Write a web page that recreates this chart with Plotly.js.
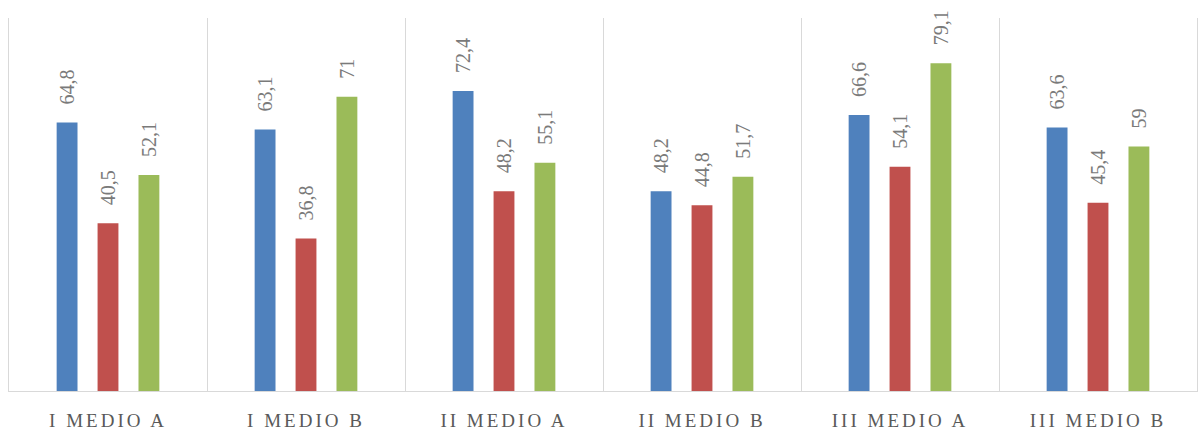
<!DOCTYPE html>
<html>
<head>
<meta charset="utf-8">
<script src="https://cdn.plot.ly/plotly-3.0.1.min.js"></script>
<style>
html,body{margin:0;padding:0;background:#fff;}
#chart{width:1200px;height:430px;}
.xtick text{letter-spacing:3px;}
</style>
</head>
<body>
<div id="chart"></div>
<script>
const categories = ["I MEDIO A", "I MEDIO B", "II MEDIO A", "II MEDIO B", "III MEDIO A", "III MEDIO B"];
const series1 = [64.8, 63.1, 72.4, 48.2, 66.6, 63.6];
const series2 = [40.5, 36.8, 48.2, 44.8, 54.1, 45.4];
const series3 = [52.1, 71, 55.1, 51.7, 79.1, 59];
const colors = ["#4f81bd", "#c0504d", "#9bbb59"];

function fmt(v) { return '\u00a0\u00a0\u00a0' + String(v).replace('.', ','); }

const traces = [series1, series2, series3].map((s, i) => ({
  type: 'bar',
  x: categories,
  y: s,
  marker: {color: colors[i]},
  text: s.map(fmt),
  textposition: 'outside',
  textangle: -90,
  constraintext: 'none',
  textfont: {family: 'Liberation Serif, DejaVu Serif, serif', size: 20, color: '#7a7a7a'},
  cliponaxis: false,
  hoverinfo: 'none'
}));

const layout = {
  width: 1200, height: 430,
  margin: {l: 9, r: 3, t: 18, b: 39},
  paper_bgcolor: '#fff', plot_bgcolor: '#fff',
  barmode: 'group',
  bargap: 0.38,
  bargroupgap: 0.49,
  showlegend: false,
  uniformtext: {mode: false},
  xaxis: {
    type: 'category',
    tickson: 'boundaries',
    showgrid: true, gridcolor: '#d9d9d9', gridwidth: 1,
    showline: true, linecolor: '#d9d9d9', linewidth: 1,
    ticks: '',
    ticklabelstandoff: 12,
    tickfont: {family: 'Liberation Serif, DejaVu Serif, serif', size: 19, color: '#595959'},
    zeroline: false
  },
  yaxis: {
    range: [0, 90],
    showgrid: false, zeroline: false,
    showticklabels: false, ticks: '',
    showline: true, mirror: true, linecolor: '#d9d9d9', linewidth: 1
  }
};

Plotly.newPlot('chart', traces, layout, {staticPlot: true});
</script>
</body>
</html>
